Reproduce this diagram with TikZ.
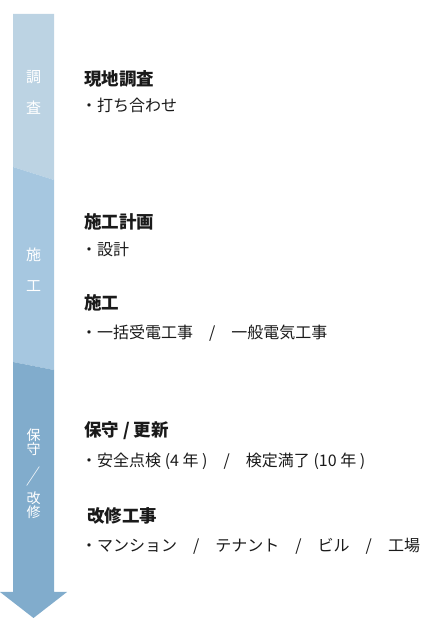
\documentclass[tikz,border=0pt]{standalone}
\usepackage{fontspec}
\setmainfont{Noto Sans CJK JP}
\usepackage{xcolor}
\definecolor{surveyblue}{RGB}{188,211,227}
\definecolor{workblue}{RGB}{166,199,224}
\definecolor{maintblue}{RGB}{129,172,204}
\definecolor{inkblack}{RGB}{26,26,26}

\begin{document}
\begin{tikzpicture}[
        line join=bevel,
        phasetitle/.style={anchor=west, inner sep=0pt, text=inkblack, font=\fontsize{17.5pt}{17.5pt}\selectfont\bfseries},
        phaseitem/.style={anchor=west, inner sep=0pt, text=inkblack, font=\fontsize{16pt}{16pt}\selectfont},
        sidelabel/.style={inner sep=0pt, text=white, font=\fontsize{15pt}{15pt}\selectfont}
    ]
        \useasboundingbox (0pt, 0pt) rectangle (431pt, 636pt);
        % Arrow
        \fill[surveyblue] (13pt, 622pt) -- (54pt, 622pt) -- (54pt, 456pt) -- (13pt, 469pt) -- cycle;
        \fill[workblue] (13pt, 469pt) -- (54pt, 456pt) -- (54pt, 266pt) -- (13pt, 274pt) -- cycle;
        \fill[maintblue] (13pt, 274pt) -- (54pt, 266pt) -- (54pt, 44pt) -- (67pt, 44pt) -- (33.5pt, 18pt) -- (0pt, 44pt) -- (13pt, 44pt) -- cycle;
        % Side labels
        \foreach \ch/\y/\nm in {
            調/559/s1,
            査/528/s2,
            施/381/s3,
            工/350/s4} {
            \node[sidelabel] (\nm) at (33.5pt, \y pt) {\ch};
        }
        \node[sidelabel, align=center, font=\fontsize{14pt}{12.5pt}\selectfont] (s5) at (33.5pt, 162.5pt)
            {保\\守\\[11pt]\scalebox{1}[1.5]{／}\\[4pt]改\\修};
        % Phases
        \node[phasetitle] (survey) at (84pt, 557pt) {現地調査};
        \node[phaseitem] (surveyitem) at (81pt, 531pt) {・打ち合わせ};
        \node[phasetitle] (plan) at (84pt, 414pt) {施工計画};
        \node[phaseitem] (planitem) at (81pt, 387pt) {・設計};
        \node[phasetitle] (work) at (84pt, 333pt) {施工};
        \node[phaseitem] (workitem) at (81pt, 303pt) {・一括受電工事\quad /\quad 一般電気工事};
        \node[phasetitle] (maint) at (84pt, 205pt) {保守 / 更新};
        \node[phaseitem] (maintitem) at (81pt, 175pt) {・安全点検 (4 年 )\quad /\quad 検定満了 (10 年 )};
        \node[phasetitle] (reform) at (87pt, 120pt) {改修工事};
        \node[phaseitem] (reformitem) at (81pt, 90pt) {・マンション\quad /\quad テナント\quad /\quad ビル\quad /\quad 工場};
    \end{tikzpicture}
\end{document}
